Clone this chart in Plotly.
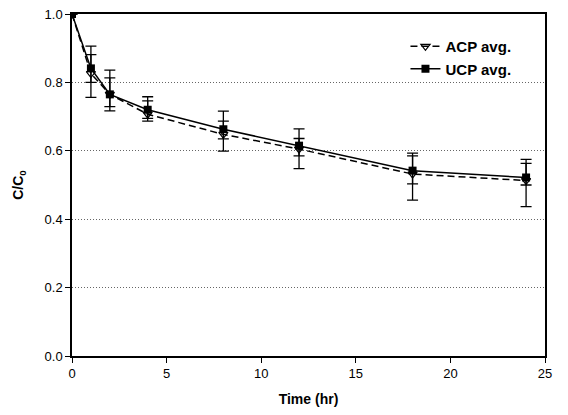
import plotly.graph_objects as go

time_hr = [0, 1, 2, 4, 8, 12, 18, 24]

acp_avg = [1.0, 0.826, 0.765, 0.707, 0.648, 0.605, 0.532, 0.513]
acp_err_plus = [0.0, 0.080, 0.048, 0.039, 0.039, 0.031, 0.053, 0.050]
acp_err_minus = [0.0, 0.070, 0.048, 0.020, 0.049, 0.057, 0.076, 0.076]

ucp_avg = [1.0, 0.841, 0.765, 0.720, 0.663, 0.615, 0.542, 0.522]
ucp_err_plus = [0.0, 0.040, 0.071, 0.038, 0.053, 0.049, 0.051, 0.053]
ucp_err_minus = [0.0, 0.041, 0.036, 0.025, 0.028, 0.030, 0.039, 0.022]

x_ticks = [0, 5, 10, 15, 20, 25]
y_ticks = [0.0, 0.2, 0.4, 0.6, 0.8, 1.0]

FONT = "Liberation Sans, Arial, sans-serif"

fig = go.Figure()

fig.add_trace(go.Scatter(
    x=time_hr, y=acp_avg, name="ACP avg.", mode="lines+markers",
    line=dict(color="black", width=1.5, dash="7px,4px"),
    marker=dict(symbol="triangle-down-open", size=8, color="black",
                line=dict(color="black", width=1.2)),
    error_y=dict(type="data", symmetric=False, array=acp_err_plus,
                 arrayminus=acp_err_minus, color="black", thickness=1.3, width=5.5),
))

fig.add_trace(go.Scatter(
    x=time_hr, y=ucp_avg, name="UCP avg.", mode="lines+markers",
    line=dict(color="black", width=1.5),
    marker=dict(symbol="square", size=8, color="black"),
    error_y=dict(type="data", symmetric=False, array=ucp_err_plus,
                 arrayminus=ucp_err_minus, color="black", thickness=1.3, width=5.5),
))

fig.update_layout(
    width=568, height=415,
    margin=dict(l=72, r=23, t=14, b=59),
    paper_bgcolor="white", plot_bgcolor="white",
    font=dict(family=FONT, size=13, color="black"),
    showlegend=True,
    legend=dict(
        x=0.705, y=0.953, xanchor="left", yanchor="top",
        bgcolor="rgba(0,0,0,0)", borderwidth=0,
        font=dict(family=FONT, size=15, color="black", weight="bold"),
        itemwidth=30, tracegroupgap=0,
    ),
    xaxis=dict(
        range=[0, 25], tickvals=x_ticks, ticktext=[str(v) for v in x_ticks],
        showline=True, linecolor="black", linewidth=1.5, mirror=True,
        ticks="outside", ticklen=5, tickcolor="black", tickwidth=1.2,
        showgrid=False, zeroline=False, automargin=False,
        tickfont=dict(family=FONT, size=13, color="black"),
        title=dict(text="<b>Time (hr)</b>", font=dict(family=FONT, size=14, color="black"), standoff=14),
    ),
    yaxis=dict(
        range=[0, 1.0], tickvals=y_ticks, ticktext=[f"{v:.1f}" for v in y_ticks],
        showline=True, linecolor="black", linewidth=1.5, mirror=True,
        ticks="outside", ticklen=5, tickcolor="black", tickwidth=1.2,
        showgrid=True, gridcolor="#666666", griddash="1px,2px", gridwidth=1,
        zeroline=False, automargin=False,
        tickfont=dict(family=FONT, size=13, color="black"),
        title=dict(text="<b>C/C<sub>0</sub></b>", font=dict(family=FONT, size=14, color="black"), standoff=18),
    ),
)

fig.write_html("out.html")
